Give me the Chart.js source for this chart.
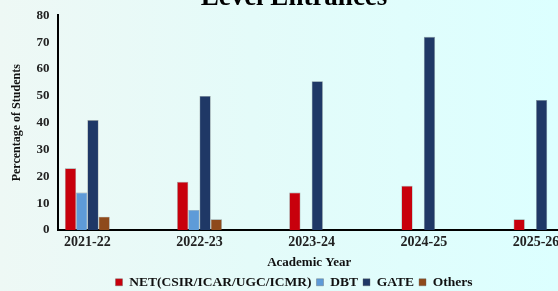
<!DOCTYPE html>
<html>
<head>
<meta charset="utf-8">
<script src="https://cdn.jsdelivr.net/npm/chart.js@4.4.1/dist/chart.umd.min.js"></script>
<style>
  html, body { margin: 0; padding: 0; }
  body {
    width: 558px; height: 291px; overflow: hidden; position: relative;
    background: linear-gradient(90deg, #eef8f5 0%, #e4fbf9 45%, #dcffff 100%);
  }
  #wrap { position: absolute; left: 0; top: -20px; width: 584px; height: 319px; }
</style>
</head>
<body>
<div id="wrap"><canvas id="chart"></canvas></div>
<script>
// Academic years on the x axis
const years = ['2021-22', '2022-23', '2023-24', '2024-25', '2025-26'];

// Percentage of students per entrance type
const net    = [23, 18, 14, 16.5, 4];
const dbt    = [14, 7.5, null, null, null];
const gate   = [41, 50, 55.5, 72, 48.5];
const others = [5, 4, null, null, null];

const yMin = 0;
const yMax = 80;
const yStep = 10;

const serif = "'Liberation Serif', 'Times New Roman', serif";

// bars sit on a linear x scale so the first group can start a bit away from the y axis
const toPoints = (arr) => arr.map((v, i) => ({ x: i, y: v }));

new Chart(document.getElementById('chart').getContext('2d'), {
  type: 'bar',
  data: {
    datasets: [
      { label: 'NET(CSIR/ICAR/UGC/ICMR)', data: toPoints(net), backgroundColor: '#c8000c' },
      { label: 'DBT', data: toPoints(dbt), backgroundColor: '#5e9bd8' },
      { label: 'GATE', data: toPoints(gate), backgroundColor: '#1f3866' },
      { label: 'Others', data: toPoints(others), backgroundColor: '#8e4a1b' }
    ]
  },
  options: {
    responsive: true,
    maintainAspectRatio: false,
    animation: false,
    layout: { padding: { left: 10, right: 6, top: 0, bottom: 0 } },
    datasets: {
      bar: {
        categoryPercentage: 0.4,
        barPercentage: 1,
        borderWidth: 0.6,
        borderColor: 'rgba(90, 90, 90, 0.6)'
      }
    },
    scales: {
      x: {
        type: 'linear',
        offset: false,
        min: -0.258,
        max: 4.214,
        afterBuildTicks: (scale) => {
          scale.ticks = years.map((_, i) => ({ value: i }));
        },
        grid: { display: false, offset: false, drawTicks: false },
        border: { display: true, color: '#000', width: 2 },
        ticks: {
          color: '#222',
          font: { family: serif, size: 14, weight: 'bold' },
          padding: 4,
          maxRotation: 0,
          callback: (value) => years[value]
        },
        title: {
          display: true,
          text: 'Academic Year',
          color: '#111',
          font: { family: serif, size: 13, weight: 'bold' },
          padding: { top: 0, bottom: 0 }
        }
      },
      y: {
        min: yMin,
        max: yMax,
        grid: { display: false, drawTicks: false },
        border: { display: true, color: '#000', width: 2 },
        ticks: {
          stepSize: yStep,
          color: '#222',
          font: { family: serif, size: 13, weight: 'bold' },
          padding: 9
        },
        title: {
          display: true,
          text: 'Percentage of Students',
          color: '#111',
          font: { family: serif, size: 12, weight: 'bold' },
          padding: { top: 0, bottom: 3 }
        }
      },
      // empty right-hand spacer so the plot ends before the legend/title box does
      spacer: {
        position: 'right',
        grid: { display: false, drawTicks: false },
        border: { display: false },
        ticks: { display: false },
        afterFit: (scale) => { scale.width = 18; }
      }
    },
    plugins: {
      title: {
        display: true,
        text: 'Level Entrances',
        color: '#000',
        font: { family: serif, size: 27, weight: 'bold' },
        padding: { top: 2, bottom: 1 }
      },
      legend: {
        position: 'bottom',
        labels: {
          color: '#111',
          boxWidth: 7,
          boxHeight: 7,
          padding: 5,
          font: { family: serif, size: 13.5, weight: 'bold' }
        }
      },
      tooltip: { enabled: false }
    }
  }
});
</script>
</body>
</html>
